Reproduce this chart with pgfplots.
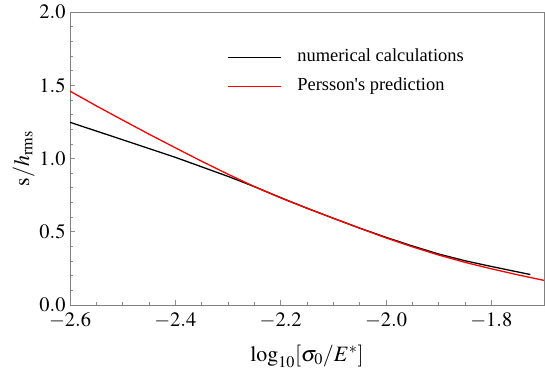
\documentclass[border=0pt]{standalone}
\usepackage{mathptmx}
\usepackage{fontspec}
\setmainfont{Liberation Serif}
\usepackage{pgfplots}
\pgfplotsset{compat=1.18}
\pgfplotstableread{
x y
-2.6 1.247
-2.5 1.128
-2.4 1.008
-2.3 0.878
-2.25 0.808
-2.2 0.733
-2.15 0.661
-2.1 0.592
-2.05 0.525
-2.0 0.462
-1.95 0.403
-1.9 0.348
-1.85 0.302
-1.8 0.263
-1.726 0.208
}\numdata
\pgfplotstableread{
x y
-2.6 1.460
-2.55 1.359
-2.5 1.262
-2.45 1.166
-2.4 1.073
-2.35 0.981
-2.3 0.893
-2.25 0.808
-2.2 0.731
-2.15 0.660
-2.1 0.592
-2.05 0.524
-2.0 0.458
-1.95 0.397
-1.9 0.341
-1.85 0.291
-1.8 0.247
-1.75 0.206
-1.7 0.168
}\perdata
\begin{document}
\begin{tikzpicture}
\begin{axis}[
  name=ax,
  scale only axis, width=474bp, height=293bp,
  xmin=-2.6, xmax=-1.7, ymin=0, ymax=2,
  xtick={-2.6,-2.4,-2.2,-2.0,-1.8},
  ytick={0,0.5,1,1.5,2},
  minor x tick num=3, minor y tick num=4,
  tick align=inside, xtick pos=bottom, ytick pos=left,
  axis line style={black!50, line width=0.6bp},
  every tick/.style={black!45, line width=0.6bp},
  major tick length=5bp, minor tick length=3bp,
  tick label style={font=\fontsize{20.5}{20.5}\selectfont},
  xticklabel style={yshift=-4bp},
  yticklabel style={xshift=-1bp},
  /pgf/number format/.cd, fixed, fixed zerofill, precision=1, /pgfplots/.cd,
  xlabel={$\log_{10}[\sigma_0/E^*]$},
  ylabel={$\mathrm{s}/h_{\mathrm{rms}}$},
  label style={font=\fontsize{22}{22}\selectfont},
  xlabel style={yshift=-10bp},
  ylabel style={yshift=-2bp},
  legend style={draw=none, fill=none, inner sep=0pt,
    at={(rel axis cs:0.331,0.875)}, anchor=north west,
    font=\fontsize{18.5}{18.5}\selectfont,
    nodes={inner sep=0pt, text height=13bp, text depth=4bp},
    row sep=12bp},
  legend cell align=left,
  legend image code/.code={\draw[#1] (0bp,0bp) -- (53bp,0bp); \path (69bp,0bp);},
]
\addplot[black, line width=1.3bp] table[x=x,y=y]{\numdata};
\addlegendentry{numerical calculations}
\addplot[red, line width=1.3bp] table[x=x,y=y]{\perdata};
\addlegendentry{Persson\textquotesingle s prediction}
\end{axis}
\pgfresetboundingbox
\path (ax.south west) ++(-70bp,-72bp) coordinate (bl);
\path (ax.north east) ++(1bp,12bp) coordinate (tr);
\useasboundingbox (bl) rectangle (tr);
\end{tikzpicture}
\end{document}
